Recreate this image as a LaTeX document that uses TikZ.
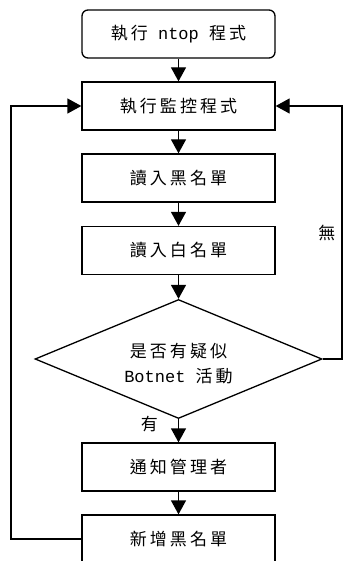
\documentclass[tikz,border=0pt]{standalone}
\usepackage{fontspec}
\setmainfont{Liberation Mono}
\newfontfamily\cjk{Noto Sans CJK TC}[LetterSpace=18]
\usetikzlibrary{arrows.meta,shapes.geometric}

\begin{document}
\begin{tikzpicture}[x=1pt,y=-1pt,
  box/.style={draw,rectangle,minimum height=48pt,minimum width=193pt,
              align=center,line width=1.3pt,inner sep=2pt,
              font=\fontsize{17}{25}\selectfont},
  startbox/.style={box,rounded corners=6pt},
  dec/.style ={box,diamond,aspect=2.4,minimum width=287pt,
               minimum height=119pt,inner sep=0pt},
  arr/.style ={-{Triangle[length=14pt,width=15pt]},line width=1.3pt},
  lbl/.style ={font=\fontsize{17}{25}\selectfont,inner sep=0pt,align=center}
]
\useasboundingbox (0,0) rectangle (344,561);

%% Main column
\node[startbox] (start) at (178.5,34)  {{\cjk 執行} ntop {\cjk 程式}};
\node[box]      (mon)   at (178.5,106) {\cjk 執行監控程式};
\node[box]      (blk)   at (178.5,178) {\cjk 讀入黑名單};
\node[box]      (wht)   at (178.5,250.5) {\cjk 讀入白名單};
\node[dec]      (chk)   at (178.5,359) {};
\node[lbl]      (chktxt) at (178.5,364) {{\cjk 是否有疑似}\\Botnet {\cjk 活動}};
\node[box]      (ntf)   at (178.5,467) {\cjk 通知管理者};
\node[box]      (add)   at (178.5,539) {\cjk 新增黑名單};

%% Loop corners
\coordinate (lt) at (11,539);
\coordinate (rt) at (342,359);

%% Forward arrows
\draw[arr] (start) -- (mon);
\draw[arr] (mon) -- (blk);
\draw[arr] (blk) -- (wht);
\draw[arr] (wht) -- (chk);
\draw[arr] (chk) -- node[lbl,pos=0.2,left=20pt]{\cjk 有} (ntf);
\draw[arr] (ntf) -- (add);

%% Return paths
\draw[arr] (chk.east) -- (rt) |- node[lbl,pos=0.25,left=6pt]{\cjk 無} (mon.east);
\draw[arr] (add.west) -- (lt) |- (mon.west);
\end{tikzpicture}
\end{document}
